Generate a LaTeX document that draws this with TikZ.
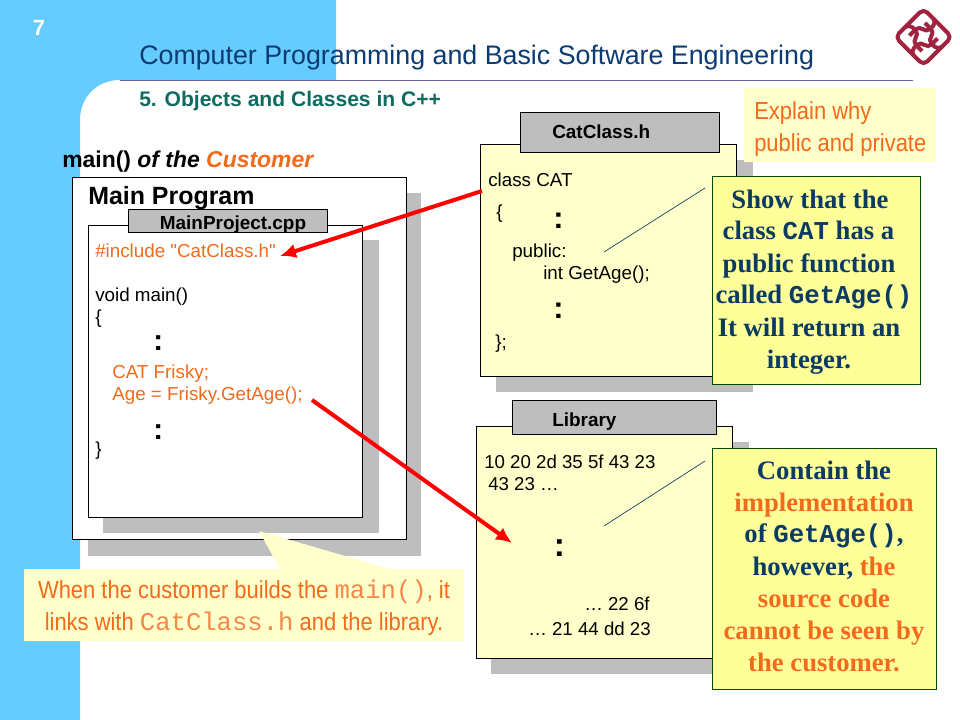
\documentclass[tikz,border=0pt]{standalone}
\usepackage{fontspec}
\setmainfont{Liberation Sans}
\newfontfamily\serifb{Liberation Serif}
\newfontfamily\monof{Liberation Mono}
\newfontfamily\condf{Liberation Sans}[FakeStretch=0.89]
\newfontfamily\rawf{Liberation Sans}
\usetikzlibrary{arrows.meta}
\definecolor{sky}{HTML}{66CCFF}
\definecolor{navy}{HTML}{0B3B73}
\definecolor{tealx}{HTML}{0F6B60}
\definecolor{orangex}{HTML}{F26A1B}
\definecolor{shadowx}{HTML}{BEBEBE}
\definecolor{noteb}{HTML}{FFFFCC}
\definecolor{notey}{HTML}{FFFF99}
\definecolor{notetext}{HTML}{0B3B63}
\definecolor{logo}{HTML}{A02340}
\newcommand{\helpmono}[1]{{\fontsize{19.2}{20}\selectfont\monof\color{orangex!80!white}#1}}
\newcommand{\notemono}[1]{{\fontsize{19.3}{20}\selectfont\monof #1}}
\tikzset{
 x=0.75pt,y=-0.75pt,
 boxw/.style={draw=black,line width=0.7pt,fill=white},
 boxy/.style={draw=black,line width=0.7pt,fill=noteb},
 tabbox/.style={draw=black,line width=0.7pt,fill=shadowx},
 shade/.style={fill=shadowx,draw=none},
 txt/.style={inner sep=0pt,anchor=base west,font=\fontsize{14.1}{16}\selectfont},
 otxt/.style={txt,text=orangex},
 libtxt/.style={inner sep=0pt,anchor=base west,font=\fontsize{14}{16}\selectfont},
 dots/.style={inner sep=0pt,anchor=base west,font=\fontsize{22}{24}\selectfont\bfseries},
 tabtxt/.style={inner sep=0pt,font=\fontsize{14.2}{16}\selectfont\bfseries},
 notebox/.style={draw=black!70!green,line width=0.7pt,fill=notey,inner sep=0pt},
 notetxt/.style={inner sep=0pt,anchor=base,font=\fontsize{20}{22}\selectfont\serifb\bfseries,text=notetext},
 redarrow/.style={draw=red,line width=3pt,-{Latex[length=12pt,width=11pt]}},
 thinline/.style={draw=notetext,line width=0.5pt},
 helptxt/.style={inner sep=0pt,anchor=base,text=orangex,font=\fontsize{18.5}{20}\selectfont\condf},
 logoline/.style={draw=logo,line width=3pt,line join=round,rounded corners=4pt}
}
\begin{document}
\begin{tikzpicture}
\useasboundingbox (0,0) rectangle (960,720);
\fill[white] (0,0) rectangle (960,720);
% background
\fill[sky] (0,0) -- (336,0) -- (336,80) -- (120,80) .. controls (97,80) and (80,97) .. (80,120) -- (80,720) -- (0,720) -- cycle;
\draw[draw=black!60!blue!60,line width=0.6pt] (120,80.5) -- (913,80.5);
\node[inner sep=0pt,anchor=base,text=white,font=\fontsize{16.5}{18}\selectfont\bfseries] (pageno) at (39,36) {7};
\node[txt,text=navy,font=\fontsize{20.1}{22}\selectfont] (title) at (139,65) {Computer Programming and Basic Software Engineering};
\node[txt,text=tealx,font=\fontsize{15.8}{17}\selectfont\bfseries] (sub) at (139,107) {5. Objects and Classes in C++};
% logo
\begin{scope}[shift={(923.5,37)},rotate=45]
 \foreach \a in {0,90,180,270}{
  \draw[logoline,rotate=\a] (-20,6) -- (-20,-20) -- (-1,-20) -- (-1,-5) -- (-11,-5) -- (-11,9);
 }
\end{scope}
% main program
\node[txt,font=\fontsize{17.2}{19}\selectfont\bfseries] (maincap) at (62,168) {main() \textit{of the} \textcolor{orangex}{\textit{Customer}}};
\fill[shade] (88,193) rectangle (421,556);
\draw[boxw] (72.5,177.5) rectangle (406,539.5);
\node[txt,font=\fontsize{18.7}{20}\selectfont\bfseries] (mainp) at (88,205) {Main Program};
\fill[shade] (103,240) rectangle (379,533);
\draw[boxw] (88.5,225.5) rectangle (362.5,517.5);
\draw[tabbox] (128.5,209.5) rectangle (327.5,232.5);
\node[tabtxt,anchor=base] (mpc) at (233,230) {MainProject.cpp};
\node[otxt] (m1) at (95,257.5) {\#include {\rawf "}CatClass.h{\rawf "}};
\node[txt] (m2) at (95,301) {void main()};
\node[txt] (m3) at (95,324) {\{};
\node[dots] (m4) at (153,350) {:};
\node[otxt] (m5) at (112,378) {CAT Frisky;};
\node[otxt] (m6) at (112,400) {Age = Frisky.GetAge();};
\node[dots] (m7) at (153,439) {:};
\node[txt] (m8) at (95,455) {\}};
% catclass
\fill[shade] (496,160) rectangle (753,392);
\draw[boxy] (480.5,144.5) rectangle (736.5,376.5);
\draw[tabbox] (520.5,112.5) rectangle (719.5,152.5);
\node[tabtxt,anchor=base west] (cch) at (552,138.5) {CatClass.h};
\node[txt] (c1) at (488,186.5) {class CAT};
\node[txt] (c2) at (496,219) {\{};
\node[dots,font=\fontsize{23}{24}\selectfont\bfseries] (c3) at (553,229) {:};
\node[txt] (c4) at (512,258) {public:};
\node[txt] (c5) at (543,280) {int GetAge();};
\node[dots,font=\fontsize{23}{24}\selectfont\bfseries] (c6) at (553,318) {:};
\node[txt] (c7) at (495,349) {\};};
% library
\fill[shade] (491,442) rectangle (749,674);
\draw[boxy] (476.5,426.5) rectangle (732.5,658.5);
\draw[tabbox] (512.5,400.5) rectangle (716,434.5);
\node[tabtxt,anchor=base west] (libt) at (552,426.5) {Library};
\node[libtxt] (l1) at (484,468) {10 20 2d 35 5f 43 23};
\node[libtxt] (l2) at (488,490) {43 23 \ldots};
\node[dots,font=\fontsize{25}{26}\selectfont\bfseries] (l3) at (553.5,556) {:};
\node[libtxt] (l4) at (584,610) {\ldots{} 22 6f};
\node[libtxt] (l5) at (528,635) {\ldots{} 21 44 dd 23};
% explain note
\fill[noteb] (744,88) rectangle (936,162);
\node[inner sep=0pt,anchor=base west,text=orangex,font=\fontsize{18.5}{20}\selectfont\condf] (e1) at (754,120) {Explain why};
\node[inner sep=0pt,anchor=base west,text=orangex,font=\fontsize{18.5}{20}\selectfont\condf] (e2) at (754,152) {public and private};
% show note
\draw[notebox] (712.5,176.5) rectangle (920.5,384.5);
\node[notetxt] (s1) at (810,208.5) {Show that the};
\node[notetxt] (s2) at (808.5,239.5) {class \notemono{CAT} has a};
\node[notetxt] (s3) at (809,272.5) {public function};
\node[notetxt] (s4) at (814,303.5) {called \notemono{GetAge()}};
\node[notetxt] (s5) at (809,336.5) {It will return an};
\node[notetxt] (s6) at (809,368.5) {integer.};
\coordinate (st1) at (604,252);
\coordinate (st2) at (705,188);
\draw[thinline] (st1) -- (st2);
% contain note
\draw[notebox] (712.5,448.5) rectangle (936.5,689.5);
\node[notetxt] (k1) at (824,479.5) {Contain the};
\node[notetxt,text=orangex] (k2) at (824,511.5) {implementation};
\node[notetxt] (k3) at (824,542.5) {of \notemono{GetAge()},};
\node[notetxt] (k4) at (824,575.5) {however, \textcolor{orangex}{the}};
\node[notetxt,text=orangex] (k5) at (824,607.5) {source code};
\node[notetxt,text=orangex] (k6) at (824,639.5) {cannot be seen by};
\node[notetxt,text=orangex] (k7) at (824,671.5) {the customer.};
\coordinate (lt1) at (604,526);
\coordinate (lt2) at (705,461);
\draw[thinline] (lt1) -- (lt2);
% customer note
\fill[noteb] (259,531) -- (390,569) -- (464,569) -- (464,641) -- (24,641) -- (24,569) -- (280,569) -- cycle;
\node[helptxt] (h1) at (244,598) {When the customer builds the \helpmono{main()}, it};
\node[helptxt] (h2) at (244,630) {links with \helpmono{CatClass.h} and the library.};
% arrows
\coordinate (a1s) at (482,191);
\coordinate (a1e) at (280,256);
\coordinate (a2s) at (312,400);
\coordinate (a2e) at (512,543);
\draw[redarrow] (a1s) -- (a1e);
\draw[redarrow] (a2s) -- (a2e);
\end{tikzpicture}
\end{document}
